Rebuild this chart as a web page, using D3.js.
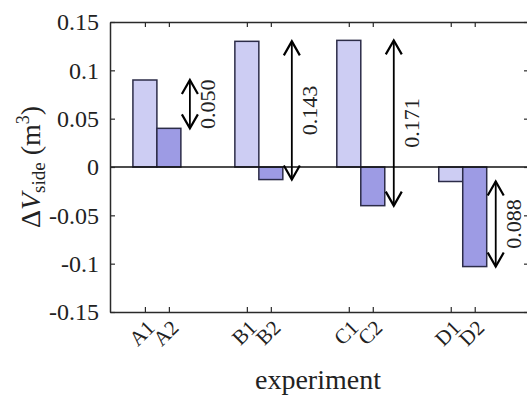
<!DOCTYPE html>
<html>
<head>
<meta charset="utf-8">
<script src="https://cdn.jsdelivr.net/npm/d3@7"></script>
<style>
  body { margin: 0; background: #fff; }
  svg { display: block; }
  text { font-family: "Liberation Serif", "Times New Roman", serif; fill: #222; }
</style>
</head>
<body>
<svg id="chart" width="527" height="397"></svg>
<script>
// ---- data ----
const groups = ["A", "B", "C", "D"];
const groupPos = [1, 2, 3, 4];
const labels1 = ["A1", "B1", "C1", "D1"];
const labels2 = ["A2", "B2", "C2", "D2"];
const values1 = [0.090, 0.130, 0.131, -0.015];
const values2 = [0.040, -0.013, -0.040, -0.103];
const diffLabels = ["0.050", "0.143", "0.171", "0.088"];
const yTicks = [-0.15, -0.1, -0.05, 0, 0.05, 0.1, 0.15];
const yTickLabels = ["-0.15", "-0.1", "-0.05", "0", "0.05", "0.1", "0.15"];
const pairOffset = 0.1176;

(function () {
// ---- layout ----
const svg = d3.select("#chart");
const pLeft = 110, pRight = 529, pTop = 22, pBottom = 312;
const x = d3.scaleLinear().domain([0.54, 4.65]).range([pLeft, pRight]);
const y = d3.scaleLinear().domain([-0.15, 0.15]).range([pBottom, pTop]);
const barW = x(1 + 2 * pairOffset) - x(1);

const light = "#cdcdf3", dark = "#9d9be4", edge = "#2c2c48", axisCol = "#2a2a2a";

const bars = [];
groupPos.forEach((g, i) => {
  bars.push({ pos: g - pairOffset, v: values1[i], fill: light, label: labels1[i] });
  bars.push({ pos: g + pairOffset, v: values2[i], fill: dark, label: labels2[i] });
});

// bars
svg.append("g").selectAll("rect").data(bars).join("rect")
  .attr("x", d => x(d.pos) - barW / 2)
  .attr("width", barW)
  .attr("y", d => Math.min(y(d.v), y(0)))
  .attr("height", d => Math.abs(y(d.v) - y(0)))
  .attr("fill", d => d.fill)
  .attr("stroke", edge)
  .attr("stroke-width", 1.5);

// zero line
svg.append("line")
  .attr("x1", pLeft).attr("x2", pRight).attr("y1", y(0)).attr("y2", y(0))
  .attr("stroke", "#111").attr("stroke-width", 1.5);

// axes box
const tickLen = 5;
const xTickVals = bars.map(d => d.pos);
const axBottom = d3.axisBottom(x).tickValues(xTickVals).tickSizeInner(-tickLen).tickSizeOuter(0).tickFormat("");
const axTop = d3.axisTop(x).tickValues(xTickVals).tickSizeInner(-tickLen).tickSizeOuter(0).tickFormat("");
const axLeft = d3.axisLeft(y).tickValues(yTicks).tickSizeInner(-tickLen).tickSizeOuter(0).tickFormat("");
const axRight = d3.axisRight(y).tickValues(yTicks).tickSizeInner(-tickLen).tickSizeOuter(0).tickFormat("");

function styleAxis(g) {
  g.select(".domain").attr("stroke", axisCol).attr("stroke-width", 1.5);
  g.selectAll(".tick line").attr("stroke", axisCol).attr("stroke-width", 1.2);
}
svg.append("g").attr("transform", `translate(0,${pBottom})`).call(axBottom).call(styleAxis);
svg.append("g").attr("transform", `translate(0,${pTop})`).call(axTop).call(styleAxis);
svg.append("g").attr("transform", `translate(${pLeft},0)`).call(axLeft).call(styleAxis);
svg.append("g").attr("transform", `translate(${pRight},0)`).call(axRight).call(styleAxis);

// y tick labels
svg.append("g").selectAll("text").data(yTicks).join("text")
  .attr("x", pLeft - 11)
  .attr("y", d => y(d))
  .attr("dy", "0.35em")
  .attr("text-anchor", "end")
  .attr("font-size", 24)
  .text((d, i) => yTickLabels[i]);

// x tick labels (rotated)
svg.append("g").selectAll("text").data(bars).join("text")
  .attr("transform", d => `translate(${x(d.pos) + 11},${pBottom + 17}) rotate(-45)`)
  .attr("text-anchor", "end")
  .attr("font-size", 21)
  .text(d => d.label);

// axis labels
svg.append("text")
  .attr("x", 318)
  .attr("y", 389)
  .attr("text-anchor", "middle")
  .attr("font-size", 28)
  .text("experiment");

const yl = svg.append("text")
  .attr("transform", `translate(40,${y(0)}) rotate(-90)`)
  .attr("text-anchor", "middle")
  .attr("font-size", 28);
yl.append("tspan").text("\u0394");
yl.append("tspan").attr("font-style", "italic").text("V");
yl.append("tspan").attr("font-size", 19).attr("dy", 5).text("side");
yl.append("tspan").attr("dy", -5).text(" (m");
yl.append("tspan").attr("font-size", 18).attr("dy", -11).text("3");
yl.append("tspan").attr("dy", 11).text(")");

// difference arrows
const headHalf = 8, headLen = 14;
const arrows = groupPos.map((g, i) => ({
  ax: x(g + pairOffset) + 21,
  y1: y(Math.max(values1[i], values2[i])),
  y2: y(Math.min(values1[i], values2[i])),
  label: diffLabels[i]
}));
const ag = svg.append("g").selectAll("g").data(arrows).join("g");
ag.append("line")
  .attr("x1", d => d.ax).attr("x2", d => d.ax)
  .attr("y1", d => d.y1).attr("y2", d => d.y2)
  .attr("stroke", "#000").attr("stroke-width", 1.8);
ag.append("path")
  .attr("d", d => `M${d.ax - headHalf},${d.y1 + headLen} L${d.ax},${d.y1} L${d.ax + headHalf},${d.y1 + headLen}`)
  .attr("fill", "none").attr("stroke", "#000").attr("stroke-width", 2.2);
ag.append("path")
  .attr("d", d => `M${d.ax - headHalf},${d.y2 - headLen} L${d.ax},${d.y2} L${d.ax + headHalf},${d.y2 - headLen}`)
  .attr("fill", "none").attr("stroke", "#000").attr("stroke-width", 2.2);
ag.append("text")
  .attr("transform", d => `translate(${d.ax + 18},${(d.y1 + d.y2) / 2}) rotate(-90)`)
  .attr("text-anchor", "middle")
  .attr("dominant-baseline", "central")
  .attr("font-size", 22)
  .text(d => d.label);
})();
</script>
</body>
</html>
